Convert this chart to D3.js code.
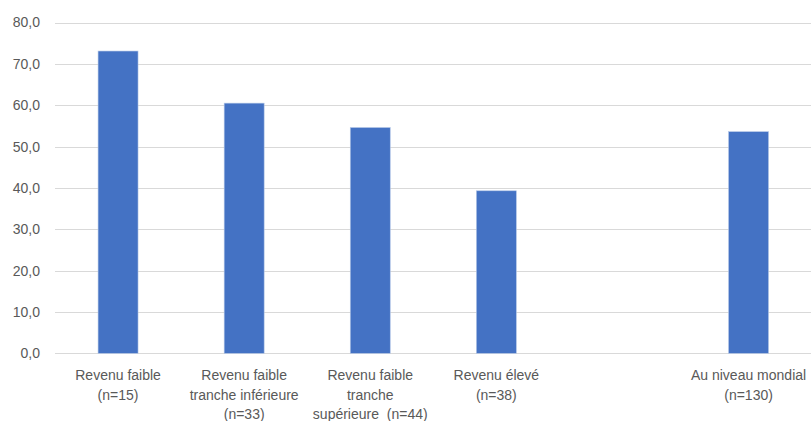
<!DOCTYPE html>
<html><head><meta charset="utf-8">
<script src="https://cdn.jsdelivr.net/npm/d3@7"></script>
<style>
html,body{margin:0;padding:0;background:#fff;}
svg{display:block;}
</style></head>
<body><svg id="chart" width="811" height="421"></svg>
<script>
const categories = [
  ["Revenu faible", "(n=15)"],
  ["Revenu faible", "tranche inférieure", "(n=33)"],
  ["Revenu faible", "tranche", "supérieure\u00a0\u00a0(n=44)"],
  ["Revenu élevé", "(n=38)"],
  [],
  ["Au niveau mondial", "(n=130)"]
];
const values = [73.1, 60.5, 54.6, 39.3, null, 53.6];
const yTicks = [0, 10, 20, 30, 40, 50, 60, 70, 80];

const svg = d3.select("#chart");
const mLeft = 55, mRight = 811.6, mTop = 22.5, mBottom = 353.3;
const idx = d3.range(categories.length);
const x = d3.scaleBand().domain(idx).range([mLeft, mRight]).paddingInner(0.683).paddingOuter(0.3415);
const y = d3.scaleLinear().domain([0, 80]).range([mBottom, mTop]);
const fmt = v => v.toFixed(1).replace(".", ",");
const font = "'Liberation Sans', Arial, sans-serif";

// gridlines
svg.append("g").selectAll("line").data(yTicks).join("line")
  .attr("x1", mLeft).attr("x2", 811)
  .attr("y1", d => Math.round(y(d)) + 0.5).attr("y2", d => Math.round(y(d)) + 0.5)
  .attr("stroke", "#d9d9d9").attr("stroke-width", 1);

// y labels
const yAxis = d3.axisLeft(y).tickValues(yTicks).tickFormat(fmt).tickSize(0).tickPadding(0);
const gy = svg.append("g").attr("transform", `translate(40,0)`).call(yAxis);
gy.select(".domain").remove();
gy.selectAll("text").attr("fill", "#595959").attr("font-size", "14px").attr("font-family", font);

// bars
svg.append("g").selectAll("rect").data(idx.filter(i => values[i] != null)).join("rect")
  .attr("x", i => x(i)).attr("width", x.bandwidth())
  .attr("y", i => y(values[i])).attr("height", i => y(0) - y(values[i]))
  .attr("fill", "#4472c4").attr("stroke", "#b4c7e7").attr("stroke-width", 0.6);

// x labels
const gx = svg.append("g");
idx.forEach(i => {
  const t = gx.append("text").attr("x", x(i) + x.bandwidth() / 2).attr("y", 380)
    .attr("text-anchor", "middle").attr("fill", "#595959")
    .attr("font-size", "14px").attr("font-family", font);
  categories[i].forEach((line, k) => {
    t.append("tspan").attr("x", x(i) + x.bandwidth() / 2).attr("dy", k === 0 ? 0 : 19.5).text(line);
  });
});
</script>
</body></html>
